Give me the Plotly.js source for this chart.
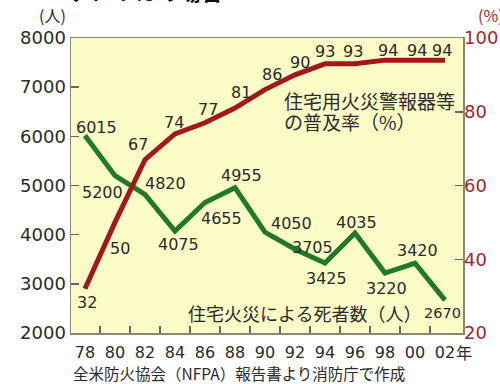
<!DOCTYPE html>
<html>
<head>
<meta charset="utf-8">
<script src="https://cdn.plot.ly/plotly-3.0.1.min.js"></script>
<style>
html,body{margin:0;padding:0;background:#fff;}
#chart{width:500px;height:384px;}
</style>
</head>
<body>
<div id="chart"></div>
<script>
// ---- data ----
const years = [1978,1980,1982,1984,1986,1988,1990,1992,1994,1996,1998,2000,2002];
const deaths = [6015,5200,4820,4075,4655,4955,4050,3705,3425,4035,3220,3420,2670];
const alarmRate = [32,50,67,74,77,81,86,90,93,93,94,94,94];
const xTickLabels = ['78','80','82','84','86','88','90','92','94','96','98','00','02'];
const oddYearTicks = [1979,1981,1983,1985,1987,1989,1991,1993,1995,1997,1999,2001];
const leftTicks = [2000,3000,4000,5000,6000,7000,8000];
const rightTicks = [20,40,60,80,100];

// ---- label offsets (pixels: dx, dy downward) ----
const deathOff = [[12,-8],[-12,17],[21,-11],[4,14],[17,16],[7,-12],[27,-9],[18,-2],[2,16],[2,-10],[2,15],[3,-13],[-3,13]];
const rateOff = [[2,14],[5,26],[-7,-15],[-1,-11],[3,-13],[6,-16],[7,-15],[5,-12],[0,-12],[-2,-12],[3,-10],[2,-10],[-3,-10]];

const GREEN = '#1f7a25';
const RED = '#a3181c';
const TXT = '#2a2a2a';
const RTXT = '#a3262b';
const TICKC = '#666666';
const NUMF = 'DejaVu Sans, sans-serif';
const JPF = '"Noto Sans CJK JP", sans-serif';
const XRANGE = [1977.07, 2003.2];

const traces = [
  {x: years, y: deaths, type:'scatter', mode:'lines', line:{color:GREEN, width:5}, xaxis:'x', yaxis:'y', hoverinfo:'skip'},
  {x: years, y: alarmRate, type:'scatter', mode:'lines', line:{color:RED, width:5}, xaxis:'x2', yaxis:'y2', hoverinfo:'skip'}
];

const ann = [];
years.forEach((yr,i)=>{
  ann.push({x:yr, y:deaths[i], xref:'x', yref:'y', text:String(deaths[i]), showarrow:false,
    xanchor:'center', yanchor:'middle', xshift:deathOff[i][0], yshift:-deathOff[i][1],
    font:{family:NUMF, size:(i===years.length-1?14.5:16), color:TXT}});
  ann.push({x:yr, y:alarmRate[i], xref:'x2', yref:'y2', text:String(alarmRate[i]), showarrow:false,
    xanchor:'center', yanchor:'middle', xshift:rateOff[i][0], yshift:-rateOff[i][1],
    font:{family:NUMF, size:16, color:TXT}});
});
// series captions
ann.push({xref:'paper', yref:'paper', x:(282-71)/392, y:1-(101-38)/295, xanchor:'left', yanchor:'middle', align:'left',
  text:'住宅用火災警報器等', showarrow:false, font:{family:JPF, size:19, color:TXT}});
ann.push({xref:'paper', yref:'paper', x:(282-71)/392, y:1-(122-38)/295, xanchor:'left', yanchor:'middle', align:'left',
  text:'の普及率（%）', showarrow:false, font:{family:JPF, size:19, color:TXT}});
ann.push({xref:'paper', yref:'paper', x:(186-71)/392, y:1-(313-38)/295, xanchor:'left', yanchor:'middle',
  text:'住宅火災による死者数（人）', showarrow:false, font:{family:JPF, size:18, color:TXT}});
// unit labels
ann.push({xref:'paper', yref:'paper', x:(37-71)/392, y:1-(15-38)/295, xanchor:'left', yanchor:'middle',
  text:'(人)', showarrow:false, font:{family:JPF, size:16, color:TXT}});
ann.push({xref:'paper', yref:'paper', x:(476-71)/392, y:1-(15-38)/295, xanchor:'left', yanchor:'middle',
  text:'(%)', showarrow:false, font:{family:JPF, size:16, color:RTXT}});
// year suffix
ann.push({xref:'x', yref:'paper', x:2002, y:0, xanchor:'left', yanchor:'top', xshift:9, yshift:-5,
  text:'年', showarrow:false, font:{family:JPF, size:16, color:TXT}});
// source
ann.push({xref:'paper', yref:'paper', x:(71-71)/392, y:1-(373-38)/295, xanchor:'left', yanchor:'middle',
  text:'全米防火協会（NFPA）報告書より消防庁で作成', showarrow:false, font:{family:JPF, size:15.5, color:TXT}});
// clipped heading at very top
ann.push({xref:'paper', yref:'paper', x:(68-71)/392, y:1, xanchor:'left', yanchor:'bottom', yshift:30,
  text:'<b>アメリカの場合</b>', showarrow:false, font:{family:JPF, size:22, color:'#111'}});

const layout = {
  width:500, height:384,
  margin:{l:71, r:37, t:38, b:51, pad:0},
  paper_bgcolor:'#ffffff',
  plot_bgcolor:'#fcfcc6',
  showlegend:false,
  xaxis:{
    range:XRANGE,
    tickmode:'array', tickvals:oddYearTicks, showticklabels:false,
    ticks:'inside', ticklen:7, tickwidth:1.5, tickcolor:TICKC,
    showgrid:false, zeroline:false,
    showline:true, mirror:true, linecolor:'#8c8577', linewidth:1.5
  },
  xaxis2:{
    range:XRANGE, overlaying:'x', anchor:'y2', side:'bottom',
    tickmode:'array', tickvals:years, ticktext:xTickLabels,
    ticks:'outside', ticklen:5, tickwidth:1, tickcolor:'rgba(0,0,0,0)',
    showgrid:false, zeroline:false, showline:false,
    tickfont:{family:NUMF, size:16, color:TXT}
  },
  yaxis:{
    range:[2000,8000], tickmode:'array', tickvals:leftTicks, ticksuffix:' ',
    ticks:'inside', ticklen:8, tickwidth:1.5, tickcolor:TICKC,
    showgrid:false, zeroline:false,
    showline:true, mirror:true, linecolor:'#8c8577', linewidth:1.5,
    tickfont:{family:NUMF, size:18, color:TXT}
  },
  yaxis2:{
    range:[20,100], overlaying:'y', side:'right', anchor:'x2', tickmode:'array', tickvals:rightTicks, tickprefix:' ',
    ticks:'inside', ticklen:8, tickwidth:1.5, tickcolor:TICKC,
    showgrid:false, zeroline:false, showline:false,
    tickfont:{family:NUMF, size:18, color:RTXT}
  },
  annotations: ann
};

Plotly.newPlot('chart', traces, layout, {displayModeBar:false, staticPlot:true});
</script>
</body>
</html>
